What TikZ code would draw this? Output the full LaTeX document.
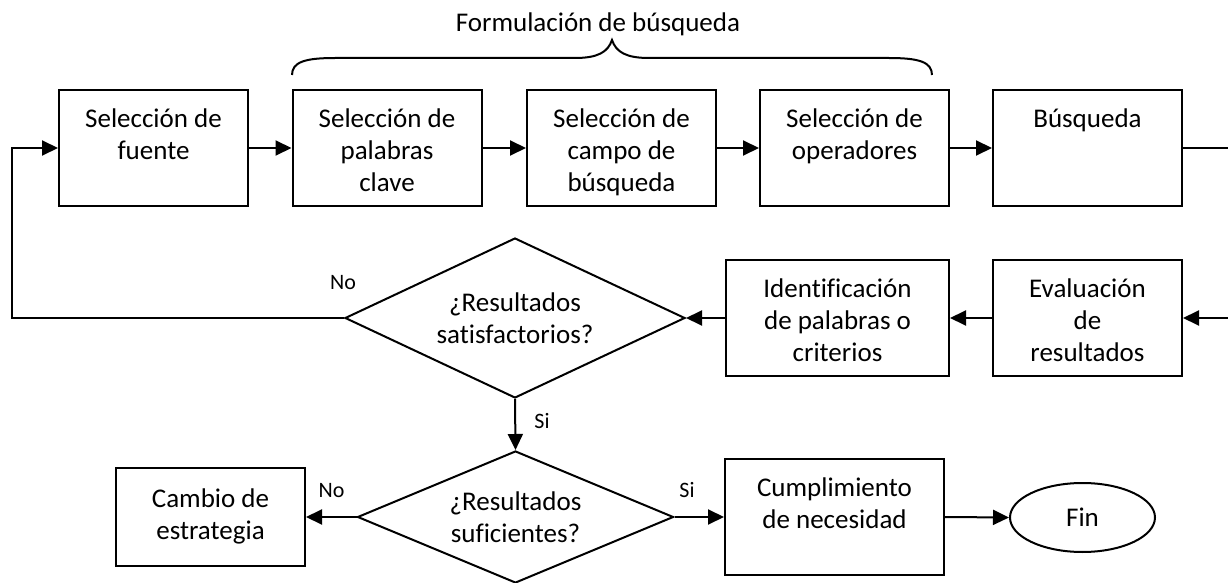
\documentclass[tikz,border=0pt]{standalone}
\usepackage{fontspec}
\setmainfont{Carlito}[Ligatures=CommonOff]
\usetikzlibrary{shapes.geometric,arrows.meta}
\begin{document}
\begin{tikzpicture}[x=0.5pt,y=-0.5pt,
  every node/.style={font=\fontsize{13.5}{16}\selectfont},
  box/.style={draw, line width=1pt, inner sep=0pt, minimum width=94.5pt, minimum height=58pt, align=center},
  dec/.style={draw, diamond, line width=1pt, inner sep=0pt, align=center},
  lbl/.style={font=\fontsize{11}{13}\selectfont, inner sep=0pt, anchor=base},
  arr/.style={line width=1pt, -{Triangle[length=8pt,width=7.5pt]}},
  ln/.style={line width=1pt}]
\useasboundingbox (0,0) rectangle (1228,583);

% top row
\node[box] (b1) at (153.5,148) {\strut Selección de\\\strut fuente\\\mbox{}};
\node[box] (b2) at (387,148) {\strut Selección de\\\strut palabras\\clave};
\node[box] (b3) at (621.5,148) {\strut Selección de\\\strut campo de\\\smash{búsqueda}};
\node[box] (b4) at (854.5,148) {\strut Selección de\\\strut operadores\\\mbox{}};
\node[box] (b5) at (1087.5,148) {\strut Búsqueda\\\strut\\\mbox{}};

% middle row
\node[box] (ev) at (1087.5,318) {\strut Evaluación\\\strut de\\resultados};
\node[box, minimum width=111.5pt] (id) at (837.5,318) {\strut Identificación\\\strut de palabras o\\criterios};
\node[dec, aspect=2.125, minimum width=170pt, minimum height=80pt] (d1) at (515,318) {¿Resultados\\satisfactorios?};

% bottom row
\node[dec, aspect=2.4, minimum width=158pt, minimum height=66pt] (d2) at (515.5,517) {¿Resultados\\suficientes?};
\node[box, minimum height=49pt] (cb) at (210.5,517) {\strut Cambio de\\\strut estrategia};
\node[box, minimum width=109.5pt] (cu) at (834.5,517) {\strut Cumplimiento\\\strut de necesidad\\\smash{\mbox{}}};
\node[draw, ellipse, line width=1pt, inner sep=0pt, minimum width=72.5pt, minimum height=34.5pt] (fin) at (1082.5,517.5) {Fin};

% brace and title
\node[anchor=base] (title) at (598,32) {Formulación de búsqueda};
\draw[ln] (292,75) .. controls (292,62) and (305,58) .. (335,58) -- (575,58)
  .. controls (598,58) and (608,52) .. (612,40)
  .. controls (616,52) and (626,58) .. (649,58) -- (889,58)
  .. controls (919,58) and (932,62) .. (932,75);

% coordinates
\coordinate (r1) at (1228,148);
\coordinate (r2) at (1228,318);
\coordinate (lft) at (12,318);

% connectors
\draw[arr] (b1) -- (b2);
\draw[arr] (b2) -- (b3);
\draw[arr] (b3) -- (b4);
\draw[arr] (b4) -- (b5);
\draw[ln] (b5.east) -- (r1);
\draw[arr] (r2) -- (ev.east);
\draw[arr] (ev) -- (id);
\draw[arr] (id.west) -- (d1.east);
\draw[arr] (d1.west) -- (lft) |- (b1.west);
\draw[arr] (d1.south) -- (d2.north);
\draw[arr] (d2.west) -- (cb.east);
\draw[arr] (d2.east) -- (cu.west);
\draw[arr] (cu.east) -- (fin.west);

% labels
\node[lbl] (no1) at (343,290) {No};
\node[lbl] (si1) at (542,428) {Si};
\node[lbl] (no2) at (331.5,497) {No};
\node[lbl] (si2) at (687,497) {Si};
\end{tikzpicture}
\end{document}
